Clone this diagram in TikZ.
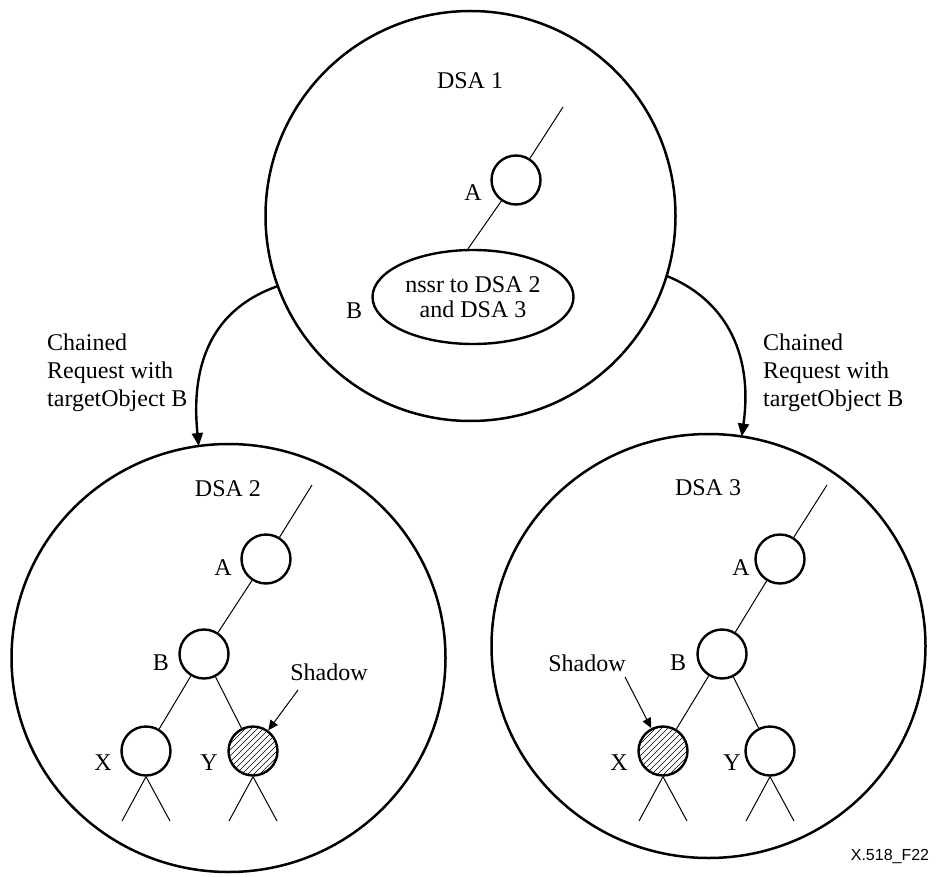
\documentclass[tikz,border=0pt]{standalone}
\usepackage{fontspec}
\setmainfont{Liberation Serif}
\newfontfamily\labsans{Liberation Sans}
\usetikzlibrary{arrows.meta,shapes.geometric}
\begin{document}
\begin{tikzpicture}[x=1pt,y=-1pt,
  font=\fontsize{24}{28}\selectfont,
  dsa/.style={draw, line width=2.5pt, ellipse, inner sep=0pt, outer sep=0pt},
  obj/.style={draw, circle, line width=2.4pt, minimum size=49pt, inner sep=0pt},
  lbl/.style={inner sep=0pt},
  tree/.style={line width=1pt},
  chain/.style={line width=2.4pt, -{Triangle[length=13pt,width=11pt]}},
  ptr/.style={line width=1pt, -{Triangle[length=10pt,width=9pt]}},
  hatched/.style={path picture={
    \foreach \d in {-48,-42,...,48}{
      \draw[line width=0.6pt] ([shift={(\d-30,30)}]path picture bounding box.center)
        -- ([shift={(\d+30,-30)}]path picture bounding box.center);}}}
]
\useasboundingbox (0,0) rectangle (936,877);

% DSA circles
\node[dsa, minimum width=410pt, minimum height=410pt] (D1) at (470.5,216) {};
\node[dsa, minimum width=434pt, minimum height=428pt] (D2) at (228.5,658) {};
\node[dsa, minimum width=434pt, minimum height=424pt] (D3) at (708.5,646) {};

\node[lbl] (L1) at (470,81) {DSA 1};
\node[lbl] (L2) at (228,489) {DSA 2};
\node[lbl] (L3) at (708,488) {DSA 3};

% DSA 1 contents
\coordinate (t1) at (563,107);
\node[obj] (A1) at (516,180) {};
\node[lbl] (A1l) at (473,193) {A};
\node[draw, ellipse, line width=2.4pt, minimum width=201pt, minimum height=94pt,
      inner sep=0pt, align=center, font=\fontsize{24}{25}\selectfont] (E) at (473,297)
      {nssr to DSA 2\\and DSA 3};
\node[lbl] (B1l) at (354,311) {B};
\draw[tree] (t1) -- (A1);
\draw[tree] (A1) -- (E.96);

% chained arrows
\draw[chain] (D1.200.5) .. controls (215,308) and (190,360) .. (D2.98);
\draw[chain] (D1.-17.6) .. controls (722,298) and (754,350) .. (D3.81);
\node[lbl, align=left, anchor=north west] (C2) at (47,334) {Chained\\Request with\\targetObject B};
\node[lbl, align=left, anchor=north west] (C3) at (763,334) {Chained\\Request with\\targetObject B};

% DSA 2 tree
\coordinate (t2) at (312,485);
\node[obj] (A2) at (266,559) {};
\node[obj] (B2) at (204,654) {};
\node[obj] (X2) at (146,751) {};
\node[obj, hatched] (Y2) at (253,751) {};
\node[lbl] at (223,568) {A};
\node[lbl] at (161,663) {B};
\node[lbl] at (103,763) {X};
\node[lbl] at (209,763) {Y};
\draw[tree] (t2) -- (A2);
\draw[tree] (A2) -- (B2);
\draw[tree] (B2) -- (X2);
\draw[tree] (B2) -- (Y2);
\coordinate (x2a) at (122,821); \coordinate (x2b) at (170,821);
\coordinate (y2a) at (229,821); \coordinate (y2b) at (277,821);
\draw[tree] (X2.south) -- (x2a); \draw[tree] (X2.south) -- (x2b);
\draw[tree] (Y2.south) -- (y2a); \draw[tree] (Y2.south) -- (y2b);
\node[lbl] (S2) at (329,672) {Shadow};
\coordinate (s2) at (298,690);
\draw[ptr] (s2) -- (Y2);

% DSA 3 tree
\coordinate (t3) at (827,485);
\node[obj] (A3) at (780,559) {};
\node[obj] (B3) at (722,654) {};
\node[obj, hatched] (X3) at (663,751) {};
\node[obj] (Y3) at (770,751) {};
\node[lbl] at (741,568) {A};
\node[lbl] at (678,663) {B};
\node[lbl] at (619,763) {X};
\node[lbl] at (732,763) {Y};
\draw[tree] (t3) -- (A3);
\draw[tree] (A3) -- (B3);
\draw[tree] (B3) -- (X3);
\draw[tree] (B3) -- (Y3);
\coordinate (x3a) at (639,821); \coordinate (x3b) at (687,821);
\coordinate (y3a) at (746,821); \coordinate (y3b) at (794,821);
\draw[tree] (X3.south) -- (x3a); \draw[tree] (X3.south) -- (x3b);
\draw[tree] (Y3.south) -- (y3a); \draw[tree] (Y3.south) -- (y3b);
\node[lbl] (S3) at (587,663) {Shadow};
\coordinate (s3) at (625,677);
\draw[ptr] (s3) -- (X3);

\node[lbl, font=\labsans\fontsize{16}{18}\selectfont] (F) at (890,856) {X.518\_F22};
\end{tikzpicture}
\end{document}
